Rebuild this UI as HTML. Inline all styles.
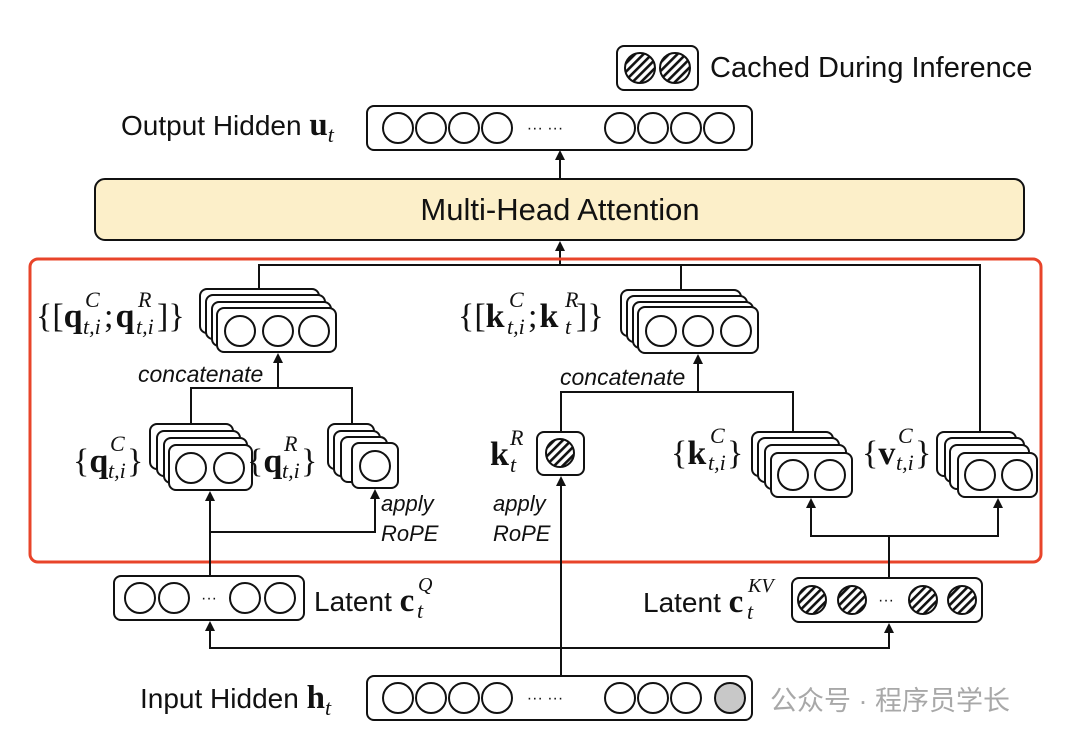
<!DOCTYPE html>
<html><head><meta charset="utf-8"><style>
html,body{margin:0;padding:0;background:#fff;}
svg{display:block;}
.s{font-family:"Liberation Sans",sans-serif;}
.m{font-family:"Liberation Serif",serif;}
.b{font-weight:bold;}
.i{font-style:italic;}
</style></head><body>
<svg width="1080" height="744" viewBox="0 0 1080 744" xmlns="http://www.w3.org/2000/svg">
<defs>
<pattern id="h" patternUnits="userSpaceOnUse" width="6" height="6" patternTransform="rotate(45)">
<rect width="6" height="6" fill="#fff"/><rect width="2.6" height="6" fill="#111"/>
</pattern>
</defs>
<g stroke="#111" stroke-width="2" fill="none">
<!-- legend -->
<rect x="617" y="46" width="81" height="44" rx="7" fill="#fff"/>
<circle cx="640" cy="68" r="15" fill="url(#h)"/>
<circle cx="675" cy="68" r="15" fill="url(#h)"/>
<!-- output hidden -->
<rect x="367" y="106" width="385" height="44" rx="7" fill="#fff"/>
<circle cx="398" cy="128" r="15"/><circle cx="431" cy="128" r="15"/><circle cx="464" cy="128" r="15"/><circle cx="497" cy="128" r="15"/>
<circle cx="620" cy="128" r="15"/><circle cx="653" cy="128" r="15"/><circle cx="686" cy="128" r="15"/><circle cx="719" cy="128" r="15"/>
<line x1="560" y1="179" x2="560" y2="158"/>
<!-- MHA -->
<rect x="95" y="179" width="929" height="61" rx="10" fill="#fcefc9"/>
<line x1="560" y1="265" x2="560" y2="248"/>
<!-- red box -->
<rect x="30" y="259" width="1011" height="303" rx="8" stroke="#e8442a" stroke-width="3"/>
<!-- top connections -->
<polyline points="259,289 259,265 980,265 980,432"/>
<line x1="681" y1="265" x2="681" y2="290"/>
<!-- q concat stack -->
<rect x="200" y="289" width="119" height="44" rx="7" fill="#fff"/>
<rect x="206" y="295" width="119" height="44" rx="7" fill="#fff"/>
<rect x="212" y="302" width="119" height="44" rx="7" fill="#fff"/>
<rect x="217" y="308" width="119" height="44" rx="7" fill="#fff"/>
<circle cx="240" cy="331" r="15"/><circle cx="278" cy="331" r="15"/><circle cx="314" cy="331" r="15"/>
<line x1="278" y1="388" x2="278" y2="360"/>
<polyline points="191,424 191,388 352,388 352,424"/>
<!-- q^C stack -->
<rect x="150" y="424" width="83" height="45" rx="7" fill="#fff"/>
<rect x="157" y="431" width="83" height="45" rx="7" fill="#fff"/>
<rect x="164" y="438" width="83" height="45" rx="7" fill="#fff"/>
<rect x="169" y="445" width="83" height="45" rx="7" fill="#fff"/>
<circle cx="191" cy="468" r="15"/><circle cx="229" cy="468" r="15"/>
<!-- q^R stack -->
<rect x="328" y="424" width="46" height="45" rx="7" fill="#fff"/>
<rect x="334" y="431" width="46" height="45" rx="7" fill="#fff"/>
<rect x="341" y="437" width="46" height="45" rx="7" fill="#fff"/>
<rect x="352" y="443" width="46" height="45" rx="7" fill="#fff"/>
<circle cx="375" cy="466" r="15"/>
<line x1="210" y1="576" x2="210" y2="498"/>
<polyline points="210,532 375,532 375,496"/>
<!-- k concat stack -->
<rect x="621" y="290" width="120" height="46" rx="7" fill="#fff"/>
<rect x="627" y="296" width="120" height="46" rx="7" fill="#fff"/>
<rect x="633" y="302" width="120" height="46" rx="7" fill="#fff"/>
<rect x="638" y="307" width="120" height="46" rx="7" fill="#fff"/>
<circle cx="661" cy="331" r="15"/><circle cx="698" cy="331" r="15"/><circle cx="736" cy="331" r="15"/>
<line x1="698" y1="392" x2="698" y2="361"/>
<polyline points="561,432 561,392 793,392 793,432"/>
<!-- k^R -->
<rect x="537" y="432" width="47" height="43" rx="7" fill="#fff"/>
<circle cx="560" cy="453" r="14" fill="url(#h)"/>
<line x1="561" y1="676" x2="561" y2="483"/>
<!-- k^C stack -->
<rect x="752" y="432" width="81" height="44" rx="7" fill="#fff"/>
<rect x="758" y="438" width="81" height="44" rx="7" fill="#fff"/>
<rect x="765" y="445" width="81" height="44" rx="7" fill="#fff"/>
<rect x="771" y="453" width="81" height="44" rx="7" fill="#fff"/>
<circle cx="793" cy="475" r="15"/><circle cx="830" cy="475" r="15"/>
<!-- v stack -->
<rect x="937" y="432" width="79" height="44" rx="7" fill="#fff"/>
<rect x="945" y="438" width="79" height="44" rx="7" fill="#fff"/>
<rect x="950" y="445" width="79" height="44" rx="7" fill="#fff"/>
<rect x="958" y="453" width="79" height="44" rx="7" fill="#fff"/>
<circle cx="980" cy="475" r="15"/><circle cx="1017" cy="475" r="15"/>
<polyline points="811,505 811,536 998,536 998,505"/>
<line x1="889" y1="536" x2="889" y2="578"/>
<!-- latent cQ -->
<rect x="114" y="576" width="190" height="44" rx="7" fill="#fff"/>
<circle cx="140" cy="598" r="15"/><circle cx="174" cy="598" r="15"/>
<circle cx="245" cy="598" r="15"/><circle cx="280" cy="598" r="15"/>
<!-- latent cKV -->
<rect x="792" y="578" width="190" height="44" rx="7" fill="#fff"/>
<circle cx="812" cy="600" r="14" fill="url(#h)"/><circle cx="852" cy="600" r="14" fill="url(#h)"/>
<circle cx="923" cy="600" r="14" fill="url(#h)"/><circle cx="962" cy="600" r="14" fill="url(#h)"/>
<!-- bottom arrows -->
<polyline points="210,628 210,648 889,648 889,630"/>
<!-- input hidden -->
<rect x="367" y="676" width="385" height="44" rx="7" fill="#fff"/>
<circle cx="398" cy="698" r="15"/><circle cx="431" cy="698" r="15"/><circle cx="464" cy="698" r="15"/><circle cx="497" cy="698" r="15"/>
<circle cx="620" cy="698" r="15"/><circle cx="653" cy="698" r="15"/><circle cx="686" cy="698" r="15"/><circle cx="730" cy="698" r="15" fill="#c8c8c8"/>
</g>
<!-- arrowheads -->
<g fill="#111">
<path d="M555,160 L560,150 L565,160Z"/>
<path d="M555,251 L560,241 L565,251Z"/>
<path d="M273,363 L278,353 L283,363Z"/>
<path d="M205,501 L210,491 L215,501Z"/>
<path d="M370,499 L375,489 L380,499Z"/>
<path d="M693,364 L698,354 L703,364Z"/>
<path d="M556,486 L561,476 L566,486Z"/>
<path d="M806,508 L811,498 L816,508Z"/>
<path d="M993,508 L998,498 L1003,508Z"/>
<path d="M205,631 L210,621 L215,631Z"/>
<path d="M884,633 L889,623 L894,633Z"/>
</g>
<!-- text -->
<g fill="#111">
<text x="710" y="77" class="s" font-size="29">Cached During Inference</text>
<text x="121" y="135" class="s" font-size="28">Output Hidden <tspan class="m b" font-size="33">u</tspan><tspan class="m i" font-size="22" dy="7">t</tspan></text>
<text x="545" y="133" class="s" font-size="16" text-anchor="middle">··· ···</text>
<text x="560" y="220" class="s" font-size="31" text-anchor="middle">Multi-Head Attention</text>

<text x="36" y="327" class="m" font-size="34">{[<tspan class="b">q</tspan></text>
<text x="85" y="307" class="m i" font-size="22">C</text><text x="83" y="334" class="m i" font-size="22">t,i</text>
<text x="104" y="327" class="m" font-size="34">;<tspan class="b" dx="2">q</tspan></text>
<text x="138" y="307" class="m i" font-size="22">R</text><text x="136" y="334" class="m i" font-size="22">t,i</text>
<text x="157" y="327" class="m" font-size="34">]}</text>

<text x="138" y="382" class="s i" font-size="23">concatenate</text>

<text x="73" y="472" class="m" font-size="34">{<tspan class="b">q</tspan></text>
<text x="110" y="451" class="m i" font-size="22">C</text><text x="108" y="478" class="m i" font-size="22">t,i</text>
<text x="127" y="472" class="m" font-size="34">}</text>
<text x="247" y="472" class="m" font-size="34">{<tspan class="b">q</tspan></text>
<text x="284" y="451" class="m i" font-size="22">R</text><text x="282" y="478" class="m i" font-size="22">t,i</text>
<text x="301" y="472" class="m" font-size="34">}</text>
<text x="381" y="511" class="s i" font-size="22">apply</text>
<text x="381" y="541" class="s i" font-size="22">RoPE</text>

<text x="458" y="327" class="m" font-size="34">{[<tspan class="b">k</tspan></text>
<text x="509" y="307" class="m i" font-size="22">C</text><text x="507" y="334" class="m i" font-size="22">t,i</text>
<text x="528" y="327" class="m" font-size="34">;<tspan class="b" dx="2">k</tspan></text>
<text x="565" y="307" class="m i" font-size="22">R</text><text x="565" y="334" class="m i" font-size="22">t</text>
<text x="576" y="327" class="m" font-size="34">]}</text>

<text x="560" y="385" class="s i" font-size="23">concatenate</text>

<text x="490" y="465" class="m b" font-size="34">k</text>
<text x="510" y="445" class="m i" font-size="22">R</text><text x="510" y="472" class="m i" font-size="22">t</text>
<text x="493" y="511" class="s i" font-size="22">apply</text>
<text x="493" y="541" class="s i" font-size="22">RoPE</text>

<text x="671" y="464" class="m" font-size="34">{<tspan class="b">k</tspan></text>
<text x="710" y="443" class="m i" font-size="22">C</text><text x="708" y="470" class="m i" font-size="22">t,i</text>
<text x="727" y="464" class="m" font-size="34">}</text>
<text x="862" y="464" class="m" font-size="34">{<tspan class="b">v</tspan></text>
<text x="898" y="443" class="m i" font-size="22">C</text><text x="896" y="470" class="m i" font-size="22">t,i</text>
<text x="915" y="464" class="m" font-size="34">}</text>

<text x="209" y="603" class="s" font-size="16" text-anchor="middle">···</text>
<text x="314" y="611" class="s" font-size="28">Latent <tspan class="m b" font-size="33">c</tspan></text>
<text x="418" y="591" class="m i" font-size="20">Q</text><text x="417" y="618" class="m i" font-size="22">t</text>

<text x="643" y="612" class="s" font-size="28">Latent <tspan class="m b" font-size="33">c</tspan></text>
<text x="748" y="592" class="m i" font-size="20">KV</text><text x="747" y="619" class="m i" font-size="22">t</text>
<text x="886" y="605" class="s" font-size="16" text-anchor="middle">···</text>

<text x="140" y="708" class="s" font-size="28">Input Hidden <tspan class="m b" font-size="33">h</tspan><tspan class="m i" font-size="22" dy="7">t</tspan></text>
<text x="545" y="703" class="s" font-size="16" text-anchor="middle">··· ···</text>
</g>
<text x="770" y="710" font-family="'Liberation Sans','Noto Sans CJK SC',sans-serif" font-size="27" fill="#a8a8a8">公众号 · 程序员学长</text>
</svg>
</body></html>
